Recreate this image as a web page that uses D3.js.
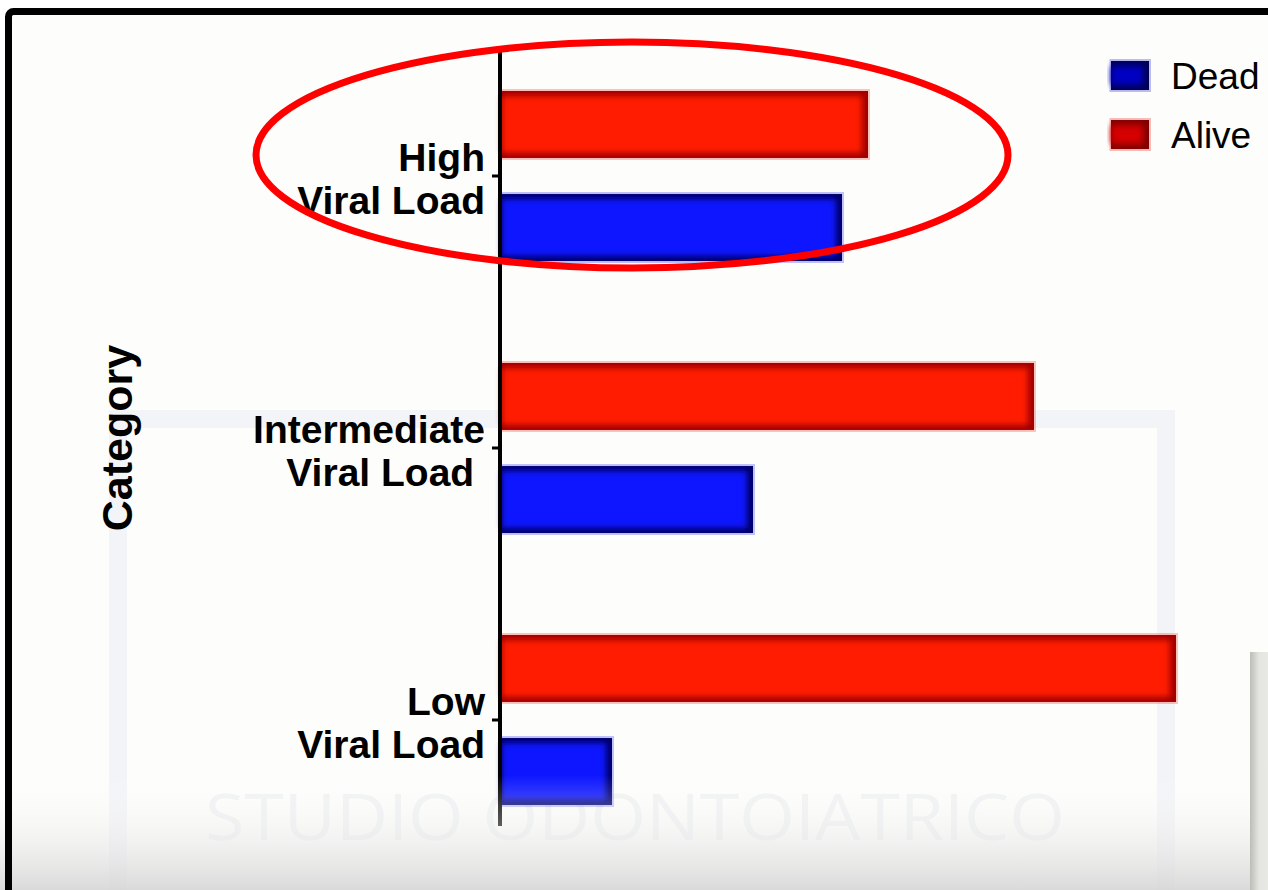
<!DOCTYPE html>
<html>
<head>
<meta charset="utf-8">
<script src="https://cdn.jsdelivr.net/npm/d3@7"></script>
<style>
  html, body { margin: 0; padding: 0; background: #ffffff; }
  svg { display: block; }
</style>
</head>
<body>
<div id="chart"></div>
<script>
// chart values (bar length units, no axis shown)
const categories = ["High Viral Load", "Intermediate Viral Load", "Low Viral Load"];
const labelLines = [["High", "Viral Load"], ["Intermediate", "Viral Load\u00a0"], ["Low", "Viral Load"]];
const seriesNames = ["Alive", "Dead"];
const aliveValues = [36.6, 53.2, 67.4];
const deadValues = [34.0, 25.1, 11.0];
const legendNames = ["Dead", "Alive"];
const axisTitle = "Category";
const watermark = "STUDIO ODONTOIATRICO";

const W = 1268, H = 890;
const colors = {
  Alive: {bright: "#ff1d06", dark: "#a00000", legend: "#d60000"},
  Dead: {bright: "#0b19ff", dark: "#000068", legend: "#0000c4"}
};

let svg = d3.select("#chart").append("svg")
  .attr("width", W).attr("height", H);

var defs = svg.append("defs");
defs.append("filter").attr("id", "soft")
  .attr("x", "-10%").attr("y", "-30%").attr("width", "120%").attr("height", "160%")
  .append("feGaussianBlur").attr("stdDeviation", 3.2);

var fade = defs.append("linearGradient").attr("id", "fade")
  .attr("x1", "0%").attr("y1", "0%").attr("x2", "0%").attr("y2", "100%");
fade.append("stop").attr("offset", "0%").attr("stop-color", "#ffffff").attr("stop-opacity", 0);
fade.append("stop").attr("offset", "100%").attr("stop-color", "#d6d6d6").attr("stop-opacity", 1);

var panel = defs.append("linearGradient").attr("id", "panel")
  .attr("x1", "0%").attr("y1", "0%").attr("x2", "100%").attr("y2", "0%");
panel.append("stop").attr("offset", "0%").attr("stop-color", "#bdbdb8");
panel.append("stop").attr("offset", "30%").attr("stop-color", "#e4e4e0");
panel.append("stop").attr("offset", "100%").attr("stop-color", "#eeeeea");

// page background inside the frame
svg.append("rect")
  .attr("x", 8).attr("y", 11).attr("width", W).attr("height", H)
  .attr("fill", "#fdfdfb");

// faint slide rectangle behind the chart
svg.append("rect")
  .attr("x", 118).attr("y", 419).attr("width", 1048).attr("height", 600)
  .attr("fill", "none")
  .attr("stroke", "#f3f4f7")
  .attr("stroke-width", 18);

// watermark
svg.append("text")
  .attr("x", 205).attr("y", 840)
  .attr("textLength", 860)
  .attr("lengthAdjust", "spacingAndGlyphs")
  .attr("font-family", "Open Sans, sans-serif")
  .attr("font-size", 64)
  .attr("fill", "#f0f2f3")
  .text(watermark);

const margin = {top: 40, bottom: 34, left: 502};

const y = d3.scaleBand()
  .domain(categories)
  .range([margin.top, H - margin.bottom])
  .paddingInner(0).paddingOuter(0);

const ySub = d3.scaleBand()
  .domain(seriesNames)
  .range([-85, 85])
  .paddingInner(0.35);

const x = d3.scaleLinear()
  .domain([0, 70])
  .range([margin.left, margin.left + 700]);

function bevelBar(g, x0, y0, w, h, c) {
  g.append("rect")
    .attr("x", x0 - 0.5).attr("y", y0 - 1).attr("width", w + 1.5).attr("height", h + 2)
    .attr("fill", "none").attr("stroke", c.bright).attr("stroke-opacity", 0.25).attr("stroke-width", 2);
  g.append("rect")
    .attr("x", x0).attr("y", y0).attr("width", w).attr("height", h)
    .attr("fill", c.dark);
  g.append("rect")
    .attr("x", x0).attr("y", y0 + 5).attr("width", Math.max(0, w - 6)).attr("height", h - 10)
    .attr("fill", c.bright)
    .attr("filter", "url(#soft)");
}

// bars
const rows = categories.map((c, i) => ({cat: c, Alive: aliveValues[i], Dead: deadValues[i]}));
const groups = svg.append("g").selectAll("g")
  .data(rows)
  .join("g")
  .attr("transform", d => `translate(0,${y(d.cat) + y.bandwidth() / 2})`);

groups.each(function(d) {
  const g = d3.select(this);
  seriesNames.forEach(s => {
    bevelBar(g, x(0), ySub(s), x(d[s]) - x(0), ySub.bandwidth(), colors[s]);
  });
});

// category axis
const yAxis = d3.axisLeft(y).tickSize(8).tickPadding(7).tickSizeOuter(0);
const axisG = svg.append("g")
  .attr("transform", `translate(${margin.left - 2},0)`)
  .call(yAxis);
axisG.select(".domain").remove();
axisG.selectAll(".tick line").attr("stroke", "#000").attr("stroke-width", 3);
axisG.selectAll(".tick text")
  .attr("dy", null)
  .attr("fill", "#000")
  .attr("font-family", "Liberation Sans, Arial, sans-serif")
  .attr("font-weight", "bold")
  .attr("font-size", 39)
  .text(null)
  .each(function(d, i) {
    const t = d3.select(this);
    const lines = labelLines[categories.indexOf(d)];
    t.append("tspan").attr("x", -15).attr("dy", -5).text(lines[0]);
    t.append("tspan").attr("x", -15).attr("dy", 43).text(lines[1]);
  });

svg.append("line")
  .attr("x1", margin.left - 2).attr("x2", margin.left - 2)
  .attr("y1", y.range()[0] + 12).attr("y2", y.range()[1] - 30)
  .attr("stroke", "#000").attr("stroke-width", 4);

svg.append("text")
  .attr("transform", `translate(132,${(y.range()[0] + y.range()[1]) / 2 - 10}) rotate(-90)`)
  .attr("text-anchor", "middle")
  .attr("font-family", "Liberation Sans, Arial, sans-serif")
  .attr("font-weight", "bold")
  .attr("font-size", 43)
  .attr("fill", "#000")
  .text(axisTitle);

// legend
const legend = svg.append("g").attr("transform", "translate(1111,61)");
const lg = legend.selectAll("g")
  .data(legendNames)
  .join("g")
  .attr("transform", (d, i) => `translate(0,${i * 59})`);
lg.each(function(d) {
  const c = colors[d];
  bevelBar(d3.select(this), 0, 0, 38, 29, {bright: c.legend, dark: d3.color(c.dark).darker(0.6), legend: c.legend});
});
lg.append("text")
  .attr("x", 60).attr("y", 28)
  .attr("font-family", "Liberation Sans, Arial, sans-serif")
  .attr("font-size", 37)
  .attr("fill", "#000")
  .text(d => d);

// red annotation ellipse round the first group
svg.append("ellipse")
  .attr("cx", 632).attr("cy", y(categories[0]) + y.bandwidth() / 2 - 21)
  .attr("rx", 376).attr("ry", 113)
  .attr("fill", "none")
  .attr("stroke", "#ff0000")
  .attr("stroke-width", 7);

// bottom shading of the video frame and side panel
svg.append("rect")
  .attr("x", 0).attr("y", 775).attr("width", W).attr("height", H - 775)
  .attr("fill", "url(#fade)").attr("opacity", 0.9);
svg.append("rect")
  .attr("x", 1250).attr("y", 652).attr("width", 30).attr("height", 260)
  .attr("fill", "url(#panel)");

// black frame
svg.append("rect")
  .attr("x", 8.5).attr("y", 11.5).attr("width", W + 20).attr("height", H + 20)
  .attr("rx", 5)
  .attr("fill", "none")
  .attr("stroke", "#000")
  .attr("stroke-width", 7);
</script>
</body>
</html>
